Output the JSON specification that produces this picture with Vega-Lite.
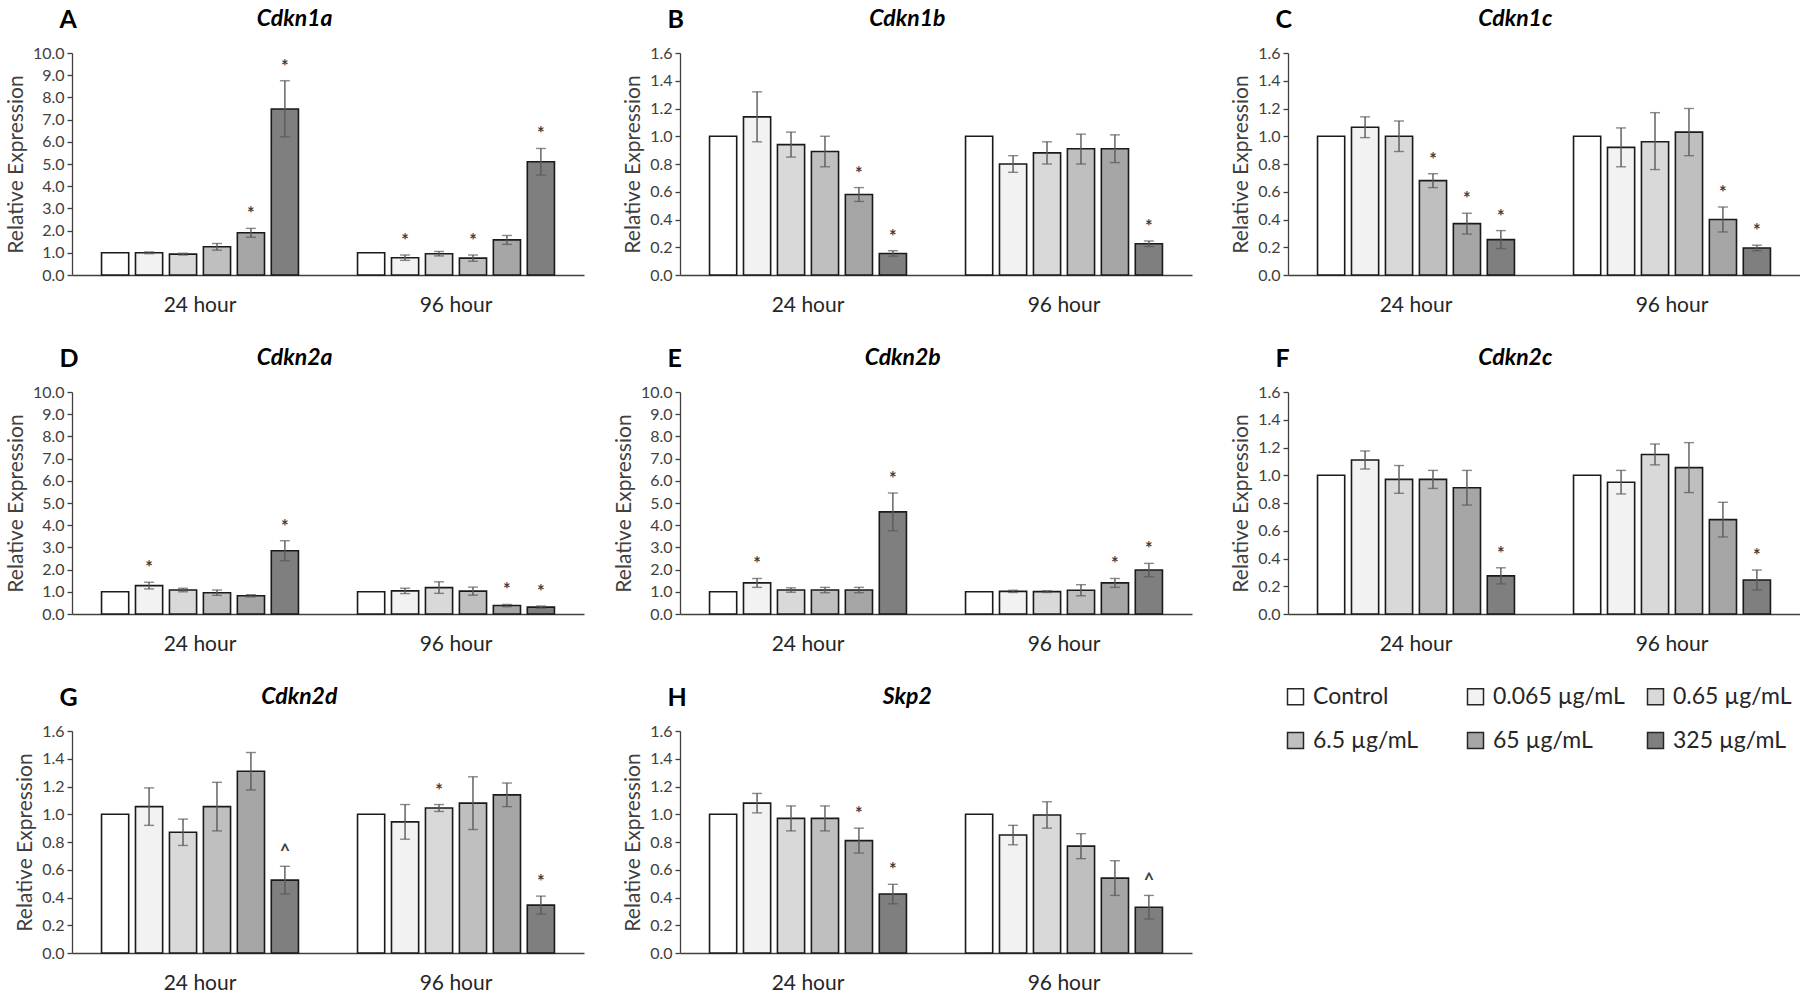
{
  "$schema": "https://vega.github.io/schema/vega-lite/v6.json",
  "background": "white",
  "padding": {"left": 5, "top": 7, "right": 0, "bottom": 0},
  "data": {"values": [
    {"g":"Cdkn1a","t":"24 hour","d":"Control","v":1.0,"s":""},
    {"g":"Cdkn1a","t":"24 hour","d":"0.065 µg/mL","v":1.0,"lo":0.96,"hi":1.04,"s":""},
    {"g":"Cdkn1a","t":"24 hour","d":"0.65 µg/mL","v":0.94,"lo":0.9,"hi":0.98,"s":""},
    {"g":"Cdkn1a","t":"24 hour","d":"6.5 µg/mL","v":1.27,"lo":1.12,"hi":1.42,"s":""},
    {"g":"Cdkn1a","t":"24 hour","d":"65 µg/mL","v":1.9,"lo":1.7,"hi":2.1,"s":"*"},
    {"g":"Cdkn1a","t":"24 hour","d":"325 µg/mL","v":7.48,"lo":6.22,"hi":8.75,"s":"*"},
    {"g":"Cdkn1a","t":"96 hour","d":"Control","v":1.0,"s":""},
    {"g":"Cdkn1a","t":"96 hour","d":"0.065 µg/mL","v":0.78,"lo":0.66,"hi":0.9,"s":"*"},
    {"g":"Cdkn1a","t":"96 hour","d":"0.65 µg/mL","v":0.96,"lo":0.86,"hi":1.06,"s":""},
    {"g":"Cdkn1a","t":"96 hour","d":"6.5 µg/mL","v":0.76,"lo":0.62,"hi":0.9,"s":"*"},
    {"g":"Cdkn1a","t":"96 hour","d":"65 µg/mL","v":1.58,"lo":1.38,"hi":1.78,"s":""},
    {"g":"Cdkn1a","t":"96 hour","d":"325 µg/mL","v":5.1,"lo":4.5,"hi":5.7,"s":"*"},

    {"g":"Cdkn1b","t":"24 hour","d":"Control","v":1.0,"s":""},
    {"g":"Cdkn1b","t":"24 hour","d":"0.065 µg/mL","v":1.14,"lo":0.96,"hi":1.32,"s":""},
    {"g":"Cdkn1b","t":"24 hour","d":"0.65 µg/mL","v":0.94,"lo":0.85,"hi":1.03,"s":""},
    {"g":"Cdkn1b","t":"24 hour","d":"6.5 µg/mL","v":0.89,"lo":0.78,"hi":1.0,"s":""},
    {"g":"Cdkn1b","t":"24 hour","d":"65 µg/mL","v":0.58,"lo":0.53,"hi":0.63,"s":"*"},
    {"g":"Cdkn1b","t":"24 hour","d":"325 µg/mL","v":0.155,"lo":0.135,"hi":0.175,"s":"*"},
    {"g":"Cdkn1b","t":"96 hour","d":"Control","v":1.0,"s":""},
    {"g":"Cdkn1b","t":"96 hour","d":"0.065 µg/mL","v":0.8,"lo":0.74,"hi":0.86,"s":""},
    {"g":"Cdkn1b","t":"96 hour","d":"0.65 µg/mL","v":0.88,"lo":0.8,"hi":0.96,"s":""},
    {"g":"Cdkn1b","t":"96 hour","d":"6.5 µg/mL","v":0.91,"lo":0.8,"hi":1.015,"s":""},
    {"g":"Cdkn1b","t":"96 hour","d":"65 µg/mL","v":0.91,"lo":0.81,"hi":1.01,"s":""},
    {"g":"Cdkn1b","t":"96 hour","d":"325 µg/mL","v":0.225,"lo":0.205,"hi":0.245,"s":"*"},

    {"g":"Cdkn1c","t":"24 hour","d":"Control","v":1.0,"s":""},
    {"g":"Cdkn1c","t":"24 hour","d":"0.065 µg/mL","v":1.065,"lo":0.99,"hi":1.14,"s":""},
    {"g":"Cdkn1c","t":"24 hour","d":"0.65 µg/mL","v":1.0,"lo":0.89,"hi":1.11,"s":""},
    {"g":"Cdkn1c","t":"24 hour","d":"6.5 µg/mL","v":0.68,"lo":0.63,"hi":0.73,"s":"*"},
    {"g":"Cdkn1c","t":"24 hour","d":"65 µg/mL","v":0.37,"lo":0.295,"hi":0.445,"s":"*"},
    {"g":"Cdkn1c","t":"24 hour","d":"325 µg/mL","v":0.255,"lo":0.19,"hi":0.32,"s":"*"},
    {"g":"Cdkn1c","t":"96 hour","d":"Control","v":1.0,"s":""},
    {"g":"Cdkn1c","t":"96 hour","d":"0.065 µg/mL","v":0.92,"lo":0.78,"hi":1.06,"s":""},
    {"g":"Cdkn1c","t":"96 hour","d":"0.65 µg/mL","v":0.96,"lo":0.76,"hi":1.17,"s":""},
    {"g":"Cdkn1c","t":"96 hour","d":"6.5 µg/mL","v":1.03,"lo":0.86,"hi":1.2,"s":""},
    {"g":"Cdkn1c","t":"96 hour","d":"65 µg/mL","v":0.4,"lo":0.31,"hi":0.49,"s":"*"},
    {"g":"Cdkn1c","t":"96 hour","d":"325 µg/mL","v":0.195,"lo":0.175,"hi":0.215,"s":"*"},

    {"g":"Cdkn2a","t":"24 hour","d":"Control","v":1.0,"s":""},
    {"g":"Cdkn2a","t":"24 hour","d":"0.065 µg/mL","v":1.28,"lo":1.13,"hi":1.43,"s":"*"},
    {"g":"Cdkn2a","t":"24 hour","d":"0.65 µg/mL","v":1.08,"lo":1.0,"hi":1.16,"s":""},
    {"g":"Cdkn2a","t":"24 hour","d":"6.5 µg/mL","v":0.96,"lo":0.84,"hi":1.08,"s":""},
    {"g":"Cdkn2a","t":"24 hour","d":"65 µg/mL","v":0.82,"lo":0.77,"hi":0.87,"s":""},
    {"g":"Cdkn2a","t":"24 hour","d":"325 µg/mL","v":2.85,"lo":2.4,"hi":3.3,"s":"*"},
    {"g":"Cdkn2a","t":"96 hour","d":"Control","v":1.0,"s":""},
    {"g":"Cdkn2a","t":"96 hour","d":"0.065 µg/mL","v":1.04,"lo":0.92,"hi":1.16,"s":""},
    {"g":"Cdkn2a","t":"96 hour","d":"0.65 µg/mL","v":1.19,"lo":0.93,"hi":1.45,"s":""},
    {"g":"Cdkn2a","t":"96 hour","d":"6.5 µg/mL","v":1.03,"lo":0.85,"hi":1.21,"s":""},
    {"g":"Cdkn2a","t":"96 hour","d":"65 µg/mL","v":0.38,"lo":0.33,"hi":0.43,"s":"*"},
    {"g":"Cdkn2a","t":"96 hour","d":"325 µg/mL","v":0.31,"lo":0.26,"hi":0.36,"s":"*"},

    {"g":"Cdkn2b","t":"24 hour","d":"Control","v":1.0,"s":""},
    {"g":"Cdkn2b","t":"24 hour","d":"0.065 µg/mL","v":1.4,"lo":1.2,"hi":1.6,"s":"*"},
    {"g":"Cdkn2b","t":"24 hour","d":"0.65 µg/mL","v":1.08,"lo":0.98,"hi":1.18,"s":""},
    {"g":"Cdkn2b","t":"24 hour","d":"6.5 µg/mL","v":1.08,"lo":0.96,"hi":1.2,"s":""},
    {"g":"Cdkn2b","t":"24 hour","d":"65 µg/mL","v":1.08,"lo":0.96,"hi":1.2,"s":""},
    {"g":"Cdkn2b","t":"24 hour","d":"325 µg/mL","v":4.6,"lo":3.75,"hi":5.45,"s":"*"},
    {"g":"Cdkn2b","t":"96 hour","d":"Control","v":1.0,"s":""},
    {"g":"Cdkn2b","t":"96 hour","d":"0.065 µg/mL","v":1.02,"lo":0.97,"hi":1.07,"s":""},
    {"g":"Cdkn2b","t":"96 hour","d":"0.65 µg/mL","v":1.01,"lo":0.97,"hi":1.05,"s":""},
    {"g":"Cdkn2b","t":"96 hour","d":"6.5 µg/mL","v":1.07,"lo":0.82,"hi":1.32,"s":""},
    {"g":"Cdkn2b","t":"96 hour","d":"65 µg/mL","v":1.4,"lo":1.2,"hi":1.6,"s":"*"},
    {"g":"Cdkn2b","t":"96 hour","d":"325 µg/mL","v":1.98,"lo":1.68,"hi":2.28,"s":"*"},

    {"g":"Cdkn2c","t":"24 hour","d":"Control","v":1.0,"s":""},
    {"g":"Cdkn2c","t":"24 hour","d":"0.065 µg/mL","v":1.11,"lo":1.045,"hi":1.175,"s":""},
    {"g":"Cdkn2c","t":"24 hour","d":"0.65 µg/mL","v":0.97,"lo":0.87,"hi":1.07,"s":""},
    {"g":"Cdkn2c","t":"24 hour","d":"6.5 µg/mL","v":0.97,"lo":0.905,"hi":1.035,"s":""},
    {"g":"Cdkn2c","t":"24 hour","d":"65 µg/mL","v":0.91,"lo":0.785,"hi":1.035,"s":""},
    {"g":"Cdkn2c","t":"24 hour","d":"325 µg/mL","v":0.275,"lo":0.217,"hi":0.333,"s":"*"},
    {"g":"Cdkn2c","t":"96 hour","d":"Control","v":1.0,"s":""},
    {"g":"Cdkn2c","t":"96 hour","d":"0.065 µg/mL","v":0.95,"lo":0.865,"hi":1.035,"s":""},
    {"g":"Cdkn2c","t":"96 hour","d":"0.65 µg/mL","v":1.15,"lo":1.075,"hi":1.225,"s":""},
    {"g":"Cdkn2c","t":"96 hour","d":"6.5 µg/mL","v":1.055,"lo":0.875,"hi":1.235,"s":""},
    {"g":"Cdkn2c","t":"96 hour","d":"65 µg/mL","v":0.68,"lo":0.555,"hi":0.805,"s":""},
    {"g":"Cdkn2c","t":"96 hour","d":"325 µg/mL","v":0.245,"lo":0.173,"hi":0.317,"s":"*"},

    {"g":"Cdkn2d","t":"24 hour","d":"Control","v":1.0,"s":""},
    {"g":"Cdkn2d","t":"24 hour","d":"0.065 µg/mL","v":1.055,"lo":0.92,"hi":1.19,"s":""},
    {"g":"Cdkn2d","t":"24 hour","d":"0.65 µg/mL","v":0.87,"lo":0.775,"hi":0.965,"s":""},
    {"g":"Cdkn2d","t":"24 hour","d":"6.5 µg/mL","v":1.055,"lo":0.88,"hi":1.23,"s":""},
    {"g":"Cdkn2d","t":"24 hour","d":"65 µg/mL","v":1.31,"lo":1.175,"hi":1.445,"s":""},
    {"g":"Cdkn2d","t":"24 hour","d":"325 µg/mL","v":0.525,"lo":0.425,"hi":0.625,"s":"^"},
    {"g":"Cdkn2d","t":"96 hour","d":"Control","v":1.0,"s":""},
    {"g":"Cdkn2d","t":"96 hour","d":"0.065 µg/mL","v":0.945,"lo":0.82,"hi":1.07,"s":""},
    {"g":"Cdkn2d","t":"96 hour","d":"0.65 µg/mL","v":1.045,"lo":1.02,"hi":1.07,"s":"*"},
    {"g":"Cdkn2d","t":"96 hour","d":"6.5 µg/mL","v":1.08,"lo":0.89,"hi":1.27,"s":""},
    {"g":"Cdkn2d","t":"96 hour","d":"65 µg/mL","v":1.14,"lo":1.055,"hi":1.225,"s":""},
    {"g":"Cdkn2d","t":"96 hour","d":"325 µg/mL","v":0.345,"lo":0.28,"hi":0.41,"s":"*"},

    {"g":"Skp2","t":"24 hour","d":"Control","v":1.0,"s":""},
    {"g":"Skp2","t":"24 hour","d":"0.065 µg/mL","v":1.08,"lo":1.01,"hi":1.15,"s":""},
    {"g":"Skp2","t":"24 hour","d":"0.65 µg/mL","v":0.97,"lo":0.88,"hi":1.06,"s":""},
    {"g":"Skp2","t":"24 hour","d":"6.5 µg/mL","v":0.97,"lo":0.88,"hi":1.06,"s":""},
    {"g":"Skp2","t":"24 hour","d":"65 µg/mL","v":0.81,"lo":0.72,"hi":0.9,"s":"*"},
    {"g":"Skp2","t":"24 hour","d":"325 µg/mL","v":0.425,"lo":0.355,"hi":0.495,"s":"*"},
    {"g":"Skp2","t":"96 hour","d":"Control","v":1.0,"s":""},
    {"g":"Skp2","t":"96 hour","d":"0.065 µg/mL","v":0.85,"lo":0.78,"hi":0.92,"s":""},
    {"g":"Skp2","t":"96 hour","d":"0.65 µg/mL","v":0.995,"lo":0.9,"hi":1.09,"s":""},
    {"g":"Skp2","t":"96 hour","d":"6.5 µg/mL","v":0.77,"lo":0.68,"hi":0.86,"s":""},
    {"g":"Skp2","t":"96 hour","d":"65 µg/mL","v":0.54,"lo":0.415,"hi":0.665,"s":""},
    {"g":"Skp2","t":"96 hour","d":"325 µg/mL","v":0.33,"lo":0.245,"hi":0.415,"s":"^"}
  ]},
  "columns": 3,
  "spacing": {"row": 117, "column": 96},
  "bounds": "flush",
  "resolve": {"scale": {"xOffset": "independent"}},
  "concat": [
    {
      "title": "Cdkn1a", "width": 512, "height": 222,
      "transform": [{"filter": "datum.g === 'Cdkn1a'"}],
      "layer": [
        {"mark": {"type": "bar", "stroke": "#1a1a1a", "strokeWidth": 1.6},
         "encoding": {
           "x": {"field": "t", "type": "nominal", "title": null, "scale": {"paddingInner": 0, "paddingOuter": 0}},
           "xOffset": {"field": "d", "type": "nominal", "sort": ["Control","0.065 µg/mL","0.65 µg/mL","6.5 µg/mL","65 µg/mL","325 µg/mL"], "scale": {"paddingInner": 0.2, "paddingOuter": 0.87}},
           "y": {"field": "v", "type": "quantitative", "scale": {"domain": [0, 10], "nice": false}, "axis": {"values": [0,1,2,3,4,5,6,7,8,9,10], "format": ".1f", "labelOverlap": false, "title": "Relative Expression"}},
           "color": {"field": "d", "type": "nominal", "scale": {"domain": ["Control","0.065 µg/mL","0.65 µg/mL","6.5 µg/mL","65 µg/mL","325 µg/mL"], "range": ["#ffffff","#f2f2f2","#d9d9d9","#bfbfbf","#a6a6a6","#7f7f7f"]}, "legend": {"title": null}}
         }},
        {"mark": {"type": "rule", "color": "#595959", "strokeWidth": 1.4},
         "encoding": {
           "x": {"field": "t", "type": "nominal", "axis": {"orient": "top", "title": "A"}},
           "xOffset": {"field": "d", "type": "nominal", "sort": ["Control","0.065 µg/mL","0.65 µg/mL","6.5 µg/mL","65 µg/mL","325 µg/mL"]},
           "y": {"field": "lo", "type": "quantitative", "axis": null},
           "y2": {"field": "hi"}
         }},
        {"mark": {"type": "tick", "color": "#595959", "thickness": 1.4, "size": 10},
         "encoding": {
           "x": {"field": "t", "type": "nominal", "axis": null},
           "xOffset": {"field": "d", "type": "nominal", "sort": ["Control","0.065 µg/mL","0.65 µg/mL","6.5 µg/mL","65 µg/mL","325 µg/mL"]},
           "y": {"field": "lo", "type": "quantitative", "axis": null}
         }},
        {"mark": {"type": "tick", "color": "#595959", "thickness": 1.4, "size": 10},
         "encoding": {
           "x": {"field": "t", "type": "nominal", "axis": null},
           "xOffset": {"field": "d", "type": "nominal", "sort": ["Control","0.065 µg/mL","0.65 µg/mL","6.5 µg/mL","65 µg/mL","325 µg/mL"]},
           "y": {"field": "hi", "type": "quantitative", "axis": null}
         }},
        {"mark": {"type": "text", "fontSize": 18, "fontWeight": "bold", "color": "#404040", "baseline": "middle", "dy": -13},
         "encoding": {
           "x": {"field": "t", "type": "nominal", "axis": null},
           "xOffset": {"field": "d", "type": "nominal", "sort": ["Control","0.065 µg/mL","0.65 µg/mL","6.5 µg/mL","65 µg/mL","325 µg/mL"]},
           "y": {"field": "hi", "type": "quantitative", "axis": null},
           "text": {"field": "s"}
         }}
      ],
      "resolve": {"axis": {"x": "independent", "y": "independent"}}
    },
    {
      "title": "Cdkn1b", "width": 512, "height": 222,
      "transform": [{"filter": "datum.g === 'Cdkn1b'"}],
      "layer": [
        {"mark": {"type": "bar", "stroke": "#1a1a1a", "strokeWidth": 1.6},
         "encoding": {
           "x": {"field": "t", "type": "nominal", "title": null, "scale": {"paddingInner": 0, "paddingOuter": 0}},
           "xOffset": {"field": "d", "type": "nominal", "sort": ["Control","0.065 µg/mL","0.65 µg/mL","6.5 µg/mL","65 µg/mL","325 µg/mL"], "scale": {"paddingInner": 0.2, "paddingOuter": 0.87}},
           "y": {"field": "v", "type": "quantitative", "scale": {"domain": [0, 1.6], "nice": false}, "axis": {"tickCount": 8, "format": ".1f", "labelOverlap": false, "title": "Relative Expression"}},
           "color": {"field": "d", "type": "nominal", "scale": {"domain": ["Control","0.065 µg/mL","0.65 µg/mL","6.5 µg/mL","65 µg/mL","325 µg/mL"], "range": ["#ffffff","#f2f2f2","#d9d9d9","#bfbfbf","#a6a6a6","#7f7f7f"]}, "legend": {"title": null}}
         }},
        {"mark": {"type": "rule", "color": "#595959", "strokeWidth": 1.4},
         "encoding": {
           "x": {"field": "t", "type": "nominal", "axis": {"orient": "top", "title": "B"}},
           "xOffset": {"field": "d", "type": "nominal", "sort": ["Control","0.065 µg/mL","0.65 µg/mL","6.5 µg/mL","65 µg/mL","325 µg/mL"]},
           "y": {"field": "lo", "type": "quantitative", "axis": null},
           "y2": {"field": "hi"}
         }},
        {"mark": {"type": "tick", "color": "#595959", "thickness": 1.4, "size": 10},
         "encoding": {
           "x": {"field": "t", "type": "nominal", "axis": null},
           "xOffset": {"field": "d", "type": "nominal", "sort": ["Control","0.065 µg/mL","0.65 µg/mL","6.5 µg/mL","65 µg/mL","325 µg/mL"]},
           "y": {"field": "lo", "type": "quantitative", "axis": null}
         }},
        {"mark": {"type": "tick", "color": "#595959", "thickness": 1.4, "size": 10},
         "encoding": {
           "x": {"field": "t", "type": "nominal", "axis": null},
           "xOffset": {"field": "d", "type": "nominal", "sort": ["Control","0.065 µg/mL","0.65 µg/mL","6.5 µg/mL","65 µg/mL","325 µg/mL"]},
           "y": {"field": "hi", "type": "quantitative", "axis": null}
         }},
        {"mark": {"type": "text", "fontSize": 18, "fontWeight": "bold", "color": "#404040", "baseline": "middle", "dy": -13},
         "encoding": {
           "x": {"field": "t", "type": "nominal", "axis": null},
           "xOffset": {"field": "d", "type": "nominal", "sort": ["Control","0.065 µg/mL","0.65 µg/mL","6.5 µg/mL","65 µg/mL","325 µg/mL"]},
           "y": {"field": "hi", "type": "quantitative", "axis": null},
           "text": {"field": "s"}
         }}
      ],
      "resolve": {"axis": {"x": "independent", "y": "independent"}}
    },
    {
      "title": "Cdkn1c", "width": 512, "height": 222,
      "transform": [{"filter": "datum.g === 'Cdkn1c'"}],
      "layer": [
        {"mark": {"type": "bar", "stroke": "#1a1a1a", "strokeWidth": 1.6},
         "encoding": {
           "x": {"field": "t", "type": "nominal", "title": null, "scale": {"paddingInner": 0, "paddingOuter": 0}},
           "xOffset": {"field": "d", "type": "nominal", "sort": ["Control","0.065 µg/mL","0.65 µg/mL","6.5 µg/mL","65 µg/mL","325 µg/mL"], "scale": {"paddingInner": 0.2, "paddingOuter": 0.87}},
           "y": {"field": "v", "type": "quantitative", "scale": {"domain": [0, 1.6], "nice": false}, "axis": {"values": [0,0.2,0.4,0.6,0.8,1.0,1.2,1.4,1.6], "format": ".1f", "labelOverlap": false, "title": "Relative Expression"}},
           "color": {"field": "d", "type": "nominal", "scale": {"domain": ["Control","0.065 µg/mL","0.65 µg/mL","6.5 µg/mL","65 µg/mL","325 µg/mL"], "range": ["#ffffff","#f2f2f2","#d9d9d9","#bfbfbf","#a6a6a6","#7f7f7f"]}, "legend": {"title": null}}
         }},
        {"mark": {"type": "rule", "color": "#595959", "strokeWidth": 1.4},
         "encoding": {
           "x": {"field": "t", "type": "nominal", "axis": {"orient": "top", "title": "C"}},
           "xOffset": {"field": "d", "type": "nominal", "sort": ["Control","0.065 µg/mL","0.65 µg/mL","6.5 µg/mL","65 µg/mL","325 µg/mL"]},
           "y": {"field": "lo", "type": "quantitative", "axis": {"values": [0,0.2,0.4,0.6,0.8,1.0,1.2,1.4,1.6], "format": ".1f", "labelOverlap": false, "title": "Relative Expression"}},
           "y2": {"field": "hi"}
         }},
        {"mark": {"type": "tick", "color": "#595959", "thickness": 1.4, "size": 10},
         "encoding": {
           "x": {"field": "t", "type": "nominal", "axis": null},
           "xOffset": {"field": "d", "type": "nominal", "sort": ["Control","0.065 µg/mL","0.65 µg/mL","6.5 µg/mL","65 µg/mL","325 µg/mL"]},
           "y": {"field": "lo", "type": "quantitative", "axis": {"values": [0,0.2,0.4,0.6,0.8,1.0,1.2,1.4,1.6], "format": ".1f", "labelOverlap": false, "title": "Relative Expression"}}
         }},
        {"mark": {"type": "tick", "color": "#595959", "thickness": 1.4, "size": 10},
         "encoding": {
           "x": {"field": "t", "type": "nominal", "axis": null},
           "xOffset": {"field": "d", "type": "nominal", "sort": ["Control","0.065 µg/mL","0.65 µg/mL","6.5 µg/mL","65 µg/mL","325 µg/mL"]},
           "y": {"field": "hi", "type": "quantitative", "axis": {"values": [0,0.2,0.4,0.6,0.8,1.0,1.2,1.4,1.6], "format": ".1f", "labelOverlap": false, "title": "Relative Expression"}}
         }},
        {"mark": {"type": "text", "fontSize": 18, "fontWeight": "bold", "color": "#404040", "baseline": "middle", "dy": -13},
         "encoding": {
           "x": {"field": "t", "type": "nominal", "axis": null},
           "xOffset": {"field": "d", "type": "nominal", "sort": ["Control","0.065 µg/mL","0.65 µg/mL","6.5 µg/mL","65 µg/mL","325 µg/mL"]},
           "y": {"field": "hi", "type": "quantitative", "axis": {"values": [0,0.2,0.4,0.6,0.8,1.0,1.2,1.4,1.6], "format": ".1f", "labelOverlap": false, "title": "Relative Expression"}},
           "text": {"field": "s"}
         }}
      ],
      "resolve": {"axis": {"x": "independent"}}
    },
    {
      "title": "Cdkn2a", "width": 512, "height": 222,
      "transform": [{"filter": "datum.g === 'Cdkn2a'"}],
      "layer": [
        {"mark": {"type": "bar", "stroke": "#1a1a1a", "strokeWidth": 1.6},
         "encoding": {
           "x": {"field": "t", "type": "nominal", "title": null, "scale": {"paddingInner": 0, "paddingOuter": 0}},
           "xOffset": {"field": "d", "type": "nominal", "sort": ["Control","0.065 µg/mL","0.65 µg/mL","6.5 µg/mL","65 µg/mL","325 µg/mL"], "scale": {"paddingInner": 0.2, "paddingOuter": 0.87}},
           "y": {"field": "v", "type": "quantitative", "scale": {"domain": [0, 10], "nice": false}, "axis": {"values": [0,1,2,3,4,5,6,7,8,9,10], "format": ".1f", "labelOverlap": false, "title": "Relative Expression"}},
           "color": {"field": "d", "type": "nominal", "scale": {"domain": ["Control","0.065 µg/mL","0.65 µg/mL","6.5 µg/mL","65 µg/mL","325 µg/mL"], "range": ["#ffffff","#f2f2f2","#d9d9d9","#bfbfbf","#a6a6a6","#7f7f7f"]}, "legend": {"title": null}}
         }},
        {"mark": {"type": "rule", "color": "#595959", "strokeWidth": 1.4},
         "encoding": {
           "x": {"field": "t", "type": "nominal", "axis": {"orient": "top", "title": "D"}},
           "xOffset": {"field": "d", "type": "nominal", "sort": ["Control","0.065 µg/mL","0.65 µg/mL","6.5 µg/mL","65 µg/mL","325 µg/mL"]},
           "y": {"field": "lo", "type": "quantitative", "axis": null},
           "y2": {"field": "hi"}
         }},
        {"mark": {"type": "tick", "color": "#595959", "thickness": 1.4, "size": 10},
         "encoding": {
           "x": {"field": "t", "type": "nominal", "axis": null},
           "xOffset": {"field": "d", "type": "nominal", "sort": ["Control","0.065 µg/mL","0.65 µg/mL","6.5 µg/mL","65 µg/mL","325 µg/mL"]},
           "y": {"field": "lo", "type": "quantitative", "axis": null}
         }},
        {"mark": {"type": "tick", "color": "#595959", "thickness": 1.4, "size": 10},
         "encoding": {
           "x": {"field": "t", "type": "nominal", "axis": null},
           "xOffset": {"field": "d", "type": "nominal", "sort": ["Control","0.065 µg/mL","0.65 µg/mL","6.5 µg/mL","65 µg/mL","325 µg/mL"]},
           "y": {"field": "hi", "type": "quantitative", "axis": null}
         }},
        {"mark": {"type": "text", "fontSize": 18, "fontWeight": "bold", "color": "#404040", "baseline": "middle", "dy": -13},
         "encoding": {
           "x": {"field": "t", "type": "nominal", "axis": null},
           "xOffset": {"field": "d", "type": "nominal", "sort": ["Control","0.065 µg/mL","0.65 µg/mL","6.5 µg/mL","65 µg/mL","325 µg/mL"]},
           "y": {"field": "hi", "type": "quantitative", "axis": null},
           "text": {"field": "s"}
         }}
      ],
      "resolve": {"axis": {"x": "independent", "y": "independent"}}
    },
    {
      "title": "Cdkn2b", "width": 512, "height": 222,
      "transform": [{"filter": "datum.g === 'Cdkn2b'"}],
      "layer": [
        {"mark": {"type": "bar", "stroke": "#1a1a1a", "strokeWidth": 1.6},
         "encoding": {
           "x": {"field": "t", "type": "nominal", "title": null, "scale": {"paddingInner": 0, "paddingOuter": 0}},
           "xOffset": {"field": "d", "type": "nominal", "sort": ["Control","0.065 µg/mL","0.65 µg/mL","6.5 µg/mL","65 µg/mL","325 µg/mL"], "scale": {"paddingInner": 0.2, "paddingOuter": 0.87}},
           "y": {"field": "v", "type": "quantitative", "scale": {"domain": [0, 10], "nice": false}, "axis": {"values": [0,1,2,3,4,5,6,7,8,9,10], "format": ".1f", "labelOverlap": false, "title": "Relative Expression"}},
           "color": {"field": "d", "type": "nominal", "scale": {"domain": ["Control","0.065 µg/mL","0.65 µg/mL","6.5 µg/mL","65 µg/mL","325 µg/mL"], "range": ["#ffffff","#f2f2f2","#d9d9d9","#bfbfbf","#a6a6a6","#7f7f7f"]}, "legend": {"title": null}}
         }},
        {"mark": {"type": "rule", "color": "#595959", "strokeWidth": 1.4},
         "encoding": {
           "x": {"field": "t", "type": "nominal", "axis": {"orient": "top", "title": "E"}},
           "xOffset": {"field": "d", "type": "nominal", "sort": ["Control","0.065 µg/mL","0.65 µg/mL","6.5 µg/mL","65 µg/mL","325 µg/mL"]},
           "y": {"field": "lo", "type": "quantitative", "axis": null},
           "y2": {"field": "hi"}
         }},
        {"mark": {"type": "tick", "color": "#595959", "thickness": 1.4, "size": 10},
         "encoding": {
           "x": {"field": "t", "type": "nominal", "axis": null},
           "xOffset": {"field": "d", "type": "nominal", "sort": ["Control","0.065 µg/mL","0.65 µg/mL","6.5 µg/mL","65 µg/mL","325 µg/mL"]},
           "y": {"field": "lo", "type": "quantitative", "axis": null}
         }},
        {"mark": {"type": "tick", "color": "#595959", "thickness": 1.4, "size": 10},
         "encoding": {
           "x": {"field": "t", "type": "nominal", "axis": null},
           "xOffset": {"field": "d", "type": "nominal", "sort": ["Control","0.065 µg/mL","0.65 µg/mL","6.5 µg/mL","65 µg/mL","325 µg/mL"]},
           "y": {"field": "hi", "type": "quantitative", "axis": null}
         }},
        {"mark": {"type": "text", "fontSize": 18, "fontWeight": "bold", "color": "#404040", "baseline": "middle", "dy": -13},
         "encoding": {
           "x": {"field": "t", "type": "nominal", "axis": null},
           "xOffset": {"field": "d", "type": "nominal", "sort": ["Control","0.065 µg/mL","0.65 µg/mL","6.5 µg/mL","65 µg/mL","325 µg/mL"]},
           "y": {"field": "hi", "type": "quantitative", "axis": null},
           "text": {"field": "s"}
         }}
      ],
      "resolve": {"axis": {"x": "independent", "y": "independent"}}
    },
    {
      "title": "Cdkn2c", "width": 512, "height": 222,
      "transform": [{"filter": "datum.g === 'Cdkn2c'"}],
      "layer": [
        {"mark": {"type": "bar", "stroke": "#1a1a1a", "strokeWidth": 1.6},
         "encoding": {
           "x": {"field": "t", "type": "nominal", "title": null, "scale": {"paddingInner": 0, "paddingOuter": 0}},
           "xOffset": {"field": "d", "type": "nominal", "sort": ["Control","0.065 µg/mL","0.65 µg/mL","6.5 µg/mL","65 µg/mL","325 µg/mL"], "scale": {"paddingInner": 0.2, "paddingOuter": 0.87}},
           "y": {"field": "v", "type": "quantitative", "scale": {"domain": [0, 1.6], "nice": false}, "axis": {"values": [0,0.2,0.4,0.6,0.8,1.0,1.2,1.4,1.6], "format": ".1f", "labelOverlap": false, "title": "Relative Expression"}},
           "color": {"field": "d", "type": "nominal", "scale": {"domain": ["Control","0.065 µg/mL","0.65 µg/mL","6.5 µg/mL","65 µg/mL","325 µg/mL"], "range": ["#ffffff","#f2f2f2","#d9d9d9","#bfbfbf","#a6a6a6","#7f7f7f"]}, "legend": {"title": null}}
         }},
        {"mark": {"type": "rule", "color": "#595959", "strokeWidth": 1.4},
         "encoding": {
           "x": {"field": "t", "type": "nominal", "axis": {"orient": "top", "title": "F"}},
           "xOffset": {"field": "d", "type": "nominal", "sort": ["Control","0.065 µg/mL","0.65 µg/mL","6.5 µg/mL","65 µg/mL","325 µg/mL"]},
           "y": {"field": "lo", "type": "quantitative", "axis": null},
           "y2": {"field": "hi"}
         }},
        {"mark": {"type": "tick", "color": "#595959", "thickness": 1.4, "size": 10},
         "encoding": {
           "x": {"field": "t", "type": "nominal", "axis": null},
           "xOffset": {"field": "d", "type": "nominal", "sort": ["Control","0.065 µg/mL","0.65 µg/mL","6.5 µg/mL","65 µg/mL","325 µg/mL"]},
           "y": {"field": "lo", "type": "quantitative", "axis": null}
         }},
        {"mark": {"type": "tick", "color": "#595959", "thickness": 1.4, "size": 10},
         "encoding": {
           "x": {"field": "t", "type": "nominal", "axis": null},
           "xOffset": {"field": "d", "type": "nominal", "sort": ["Control","0.065 µg/mL","0.65 µg/mL","6.5 µg/mL","65 µg/mL","325 µg/mL"]},
           "y": {"field": "hi", "type": "quantitative", "axis": null}
         }},
        {"mark": {"type": "text", "fontSize": 18, "fontWeight": "bold", "color": "#404040", "baseline": "middle", "dy": -13},
         "encoding": {
           "x": {"field": "t", "type": "nominal", "axis": null},
           "xOffset": {"field": "d", "type": "nominal", "sort": ["Control","0.065 µg/mL","0.65 µg/mL","6.5 µg/mL","65 µg/mL","325 µg/mL"]},
           "y": {"field": "hi", "type": "quantitative", "axis": null},
           "text": {"field": "s"}
         }}
      ],
      "resolve": {"axis": {"x": "independent", "y": "independent"}}
    },
    {
      "title": "Cdkn2d", "width": 512, "height": 222,
      "transform": [{"filter": "datum.g === 'Cdkn2d'"}],
      "layer": [
        {"mark": {"type": "bar", "stroke": "#1a1a1a", "strokeWidth": 1.6},
         "encoding": {
           "x": {"field": "t", "type": "nominal", "title": null, "scale": {"paddingInner": 0, "paddingOuter": 0}},
           "xOffset": {"field": "d", "type": "nominal", "sort": ["Control","0.065 µg/mL","0.65 µg/mL","6.5 µg/mL","65 µg/mL","325 µg/mL"], "scale": {"paddingInner": 0.2, "paddingOuter": 0.87}},
           "y": {"field": "v", "type": "quantitative", "scale": {"domain": [0, 1.6], "nice": false}, "axis": {"values": [0,0.2,0.4,0.6,0.8,1.0,1.2,1.4,1.6], "format": ".1f", "labelOverlap": false, "title": "Relative Expression"}},
           "color": {"field": "d", "type": "nominal", "scale": {"domain": ["Control","0.065 µg/mL","0.65 µg/mL","6.5 µg/mL","65 µg/mL","325 µg/mL"], "range": ["#ffffff","#f2f2f2","#d9d9d9","#bfbfbf","#a6a6a6","#7f7f7f"]}, "legend": {"title": null}}
         }},
        {"mark": {"type": "rule", "color": "#595959", "strokeWidth": 1.4},
         "encoding": {
           "x": {"field": "t", "type": "nominal", "axis": {"orient": "top", "title": "G"}},
           "xOffset": {"field": "d", "type": "nominal", "sort": ["Control","0.065 µg/mL","0.65 µg/mL","6.5 µg/mL","65 µg/mL","325 µg/mL"]},
           "y": {"field": "lo", "type": "quantitative", "axis": null},
           "y2": {"field": "hi"}
         }},
        {"mark": {"type": "tick", "color": "#595959", "thickness": 1.4, "size": 10},
         "encoding": {
           "x": {"field": "t", "type": "nominal", "axis": null},
           "xOffset": {"field": "d", "type": "nominal", "sort": ["Control","0.065 µg/mL","0.65 µg/mL","6.5 µg/mL","65 µg/mL","325 µg/mL"]},
           "y": {"field": "lo", "type": "quantitative", "axis": null}
         }},
        {"mark": {"type": "tick", "color": "#595959", "thickness": 1.4, "size": 10},
         "encoding": {
           "x": {"field": "t", "type": "nominal", "axis": null},
           "xOffset": {"field": "d", "type": "nominal", "sort": ["Control","0.065 µg/mL","0.65 µg/mL","6.5 µg/mL","65 µg/mL","325 µg/mL"]},
           "y": {"field": "hi", "type": "quantitative", "axis": null}
         }},
        {"mark": {"type": "text", "fontSize": 18, "fontWeight": "bold", "color": "#404040", "baseline": "middle", "dy": -13},
         "encoding": {
           "x": {"field": "t", "type": "nominal", "axis": null},
           "xOffset": {"field": "d", "type": "nominal", "sort": ["Control","0.065 µg/mL","0.65 µg/mL","6.5 µg/mL","65 µg/mL","325 µg/mL"]},
           "y": {"field": "hi", "type": "quantitative", "axis": null},
           "text": {"field": "s"}
         }}
      ],
      "resolve": {"axis": {"x": "independent", "y": "independent"}}
    },
    {
      "title": "Skp2", "width": 512, "height": 222,
      "transform": [{"filter": "datum.g === 'Skp2'"}],
      "layer": [
        {"mark": {"type": "bar", "stroke": "#1a1a1a", "strokeWidth": 1.6},
         "encoding": {
           "x": {"field": "t", "type": "nominal", "title": null, "scale": {"paddingInner": 0, "paddingOuter": 0}},
           "xOffset": {"field": "d", "type": "nominal", "sort": ["Control","0.065 µg/mL","0.65 µg/mL","6.5 µg/mL","65 µg/mL","325 µg/mL"], "scale": {"paddingInner": 0.2, "paddingOuter": 0.87}},
           "y": {"field": "v", "type": "quantitative", "scale": {"domain": [0, 1.6], "nice": false}, "axis": {"values": [0,0.2,0.4,0.6,0.8,1.0,1.2,1.4,1.6], "format": ".1f", "labelOverlap": false, "title": "Relative Expression"}},
           "color": {"field": "d", "type": "nominal", "scale": {"domain": ["Control","0.065 µg/mL","0.65 µg/mL","6.5 µg/mL","65 µg/mL","325 µg/mL"], "range": ["#ffffff","#f2f2f2","#d9d9d9","#bfbfbf","#a6a6a6","#7f7f7f"]}, "legend": {"title": null}}
         }},
        {"mark": {"type": "rule", "color": "#595959", "strokeWidth": 1.4},
         "encoding": {
           "x": {"field": "t", "type": "nominal", "axis": {"orient": "top", "title": "H"}},
           "xOffset": {"field": "d", "type": "nominal", "sort": ["Control","0.065 µg/mL","0.65 µg/mL","6.5 µg/mL","65 µg/mL","325 µg/mL"]},
           "y": {"field": "lo", "type": "quantitative", "axis": null},
           "y2": {"field": "hi"}
         }},
        {"mark": {"type": "tick", "color": "#595959", "thickness": 1.4, "size": 10},
         "encoding": {
           "x": {"field": "t", "type": "nominal", "axis": null},
           "xOffset": {"field": "d", "type": "nominal", "sort": ["Control","0.065 µg/mL","0.65 µg/mL","6.5 µg/mL","65 µg/mL","325 µg/mL"]},
           "y": {"field": "lo", "type": "quantitative", "axis": null}
         }},
        {"mark": {"type": "tick", "color": "#595959", "thickness": 1.4, "size": 10},
         "encoding": {
           "x": {"field": "t", "type": "nominal", "axis": null},
           "xOffset": {"field": "d", "type": "nominal", "sort": ["Control","0.065 µg/mL","0.65 µg/mL","6.5 µg/mL","65 µg/mL","325 µg/mL"]},
           "y": {"field": "hi", "type": "quantitative", "axis": null}
         }},
        {"mark": {"type": "text", "fontSize": 18, "fontWeight": "bold", "color": "#404040", "baseline": "middle", "dy": -13},
         "encoding": {
           "x": {"field": "t", "type": "nominal", "axis": null},
           "xOffset": {"field": "d", "type": "nominal", "sort": ["Control","0.065 µg/mL","0.65 µg/mL","6.5 µg/mL","65 µg/mL","325 µg/mL"]},
           "y": {"field": "hi", "type": "quantitative", "axis": null},
           "text": {"field": "s"}
         }}
      ],
      "resolve": {"axis": {"x": "independent", "y": "independent"}}
    }
  ],
  "config": {
    "font": "Lato",
    "view": {"stroke": null},
    "axis": {"grid": false, "domainColor": "#404040", "domainWidth": 1.3, "tickColor": "#404040", "tickWidth": 1.3, "labelColor": "#404040", "labelFont": "Lato", "titleFont": "Lato"},
    "axisLeft": {"labelFontSize": 16, "tickSize": 5, "labelPadding": 3, "labelOverlap": false, "titleFontSize": 21, "titleFontWeight": "normal", "titleColor": "#404040", "titlePadding": 6},
    "axisBottom": {"labelFontSize": 21, "ticks": false, "labelPadding": 19, "labelAngle": 0, "labelColor": "#262626"},
    "axisTop": {"labels": false, "ticks": false, "domain": false, "titleFontSize": 25, "titleFontWeight": "bold", "titleColor": "#000000", "titleX": -13, "titleY": -34, "titleAlign": "left", "titleBaseline": "middle"},
    "title": {"fontSize": 23, "fontWeight": "bold", "fontStyle": "italic", "color": "#000000", "anchor": "middle", "frame": "bounds", "offset": -24},
    "legend": {"orient": "none", "legendX": 1212, "legendY": 632, "direction": "horizontal", "columns": 3, "symbolType": "square", "symbolSize": 256, "symbolStrokeColor": "#262626", "symbolStrokeWidth": 1.5, "labelFontSize": 23, "labelColor": "#262626", "labelFont": "Lato", "gridAlign": "all", "columnPadding": 19, "rowPadding": 20, "labelOffset": 6, "padding": 0}
  }
}
